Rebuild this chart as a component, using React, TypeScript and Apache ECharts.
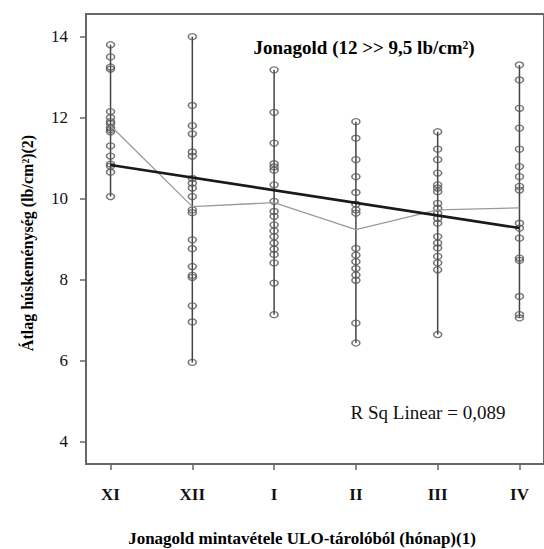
import React, { useEffect, useRef } from "react";
import * as echarts from "echarts";

// Months (categories) on the x axis
const months = ["XI", "XII", "I", "II", "III", "IV"];

// Individual firmness readings (lb/cm²) per month
const valuesXI = [13.8, 13.5, 13.25, 13.2, 12.15, 12.0, 11.9, 11.85, 11.75, 11.7, 11.65, 11.3, 11.05, 10.85, 10.8, 10.65, 10.05];
const valuesXII = [14.0, 12.3, 11.8, 11.6, 11.15, 11.05, 10.5, 10.38, 10.26, 10.05, 9.72, 9.65, 8.98, 8.76, 8.32, 8.1, 8.05, 7.35, 6.95, 5.95];
const valuesI = [13.18, 12.13, 11.37, 10.86, 10.78, 10.7, 10.34, 9.93, 9.68, 9.56, 9.35, 9.2, 9.06, 8.9, 8.75, 8.62, 8.41, 7.91, 7.13];
const valuesII = [11.9, 11.49, 10.96, 10.54, 10.15, 9.86, 9.72, 9.64, 8.77, 8.6, 8.44, 8.27, 8.11, 7.98, 6.92, 6.43];
const valuesIII = [11.65, 11.22, 10.96, 10.63, 10.34, 10.26, 10.17, 9.88, 9.76, 9.64, 9.51, 9.39, 9.06, 8.9, 8.78, 8.57, 8.41, 8.24, 6.64];
const valuesIV = [13.3, 12.93, 12.23, 11.74, 11.22, 10.79, 10.54, 10.3, 10.21, 9.39, 9.27, 9.02, 8.53, 8.47, 7.58, 7.13, 7.05];

// Mean line (thin grey) per month
const monthMeans = [11.8, 9.8, 9.9, 9.23, 9.72, 9.77];
// Linear fit line values at first and last month
const fitEnds = [10.83, 9.27];
// Y tick labels
const yTicks = [4, 6, 8, 10, 12, 14];

const titleText = "Jonagold (12 >> 9,5 lb/cm²)";
const rSqText = "R Sq Linear = 0,089";
const yName = "Átlag húskeménység (lb/cm²)(2)";
const xName = "Jonagold mintavétele ULO-tárolóból (hónap)(1)";

const FONT = "Liberation Serif";

export default function App() {
  const ref = useRef<HTMLDivElement>(null);

  useEffect(() => {
    if (!ref.current) return;
    const chart = echarts.init(ref.current, undefined, { renderer: "svg" });
    const columns = [valuesXI, valuesXII, valuesI, valuesII, valuesIII, valuesIV];
    const rangeData = columns.map((vals, i) => [i, Math.min(...vals), Math.max(...vals)]);
    const pointData: number[][] = [];
    columns.forEach((vals, i) => vals.forEach((v) => pointData.push([i, v])));
    const idx = months.map((_, i) => i);

    chart.setOption({
      animation: false,
      backgroundColor: "#ffffff",
      grid: {
        left: 86,
        top: 14,
        right: -4,
        bottom: 85,
        show: true,
        borderColor: "#666",
        borderWidth: 2,
      },
      xAxis: {
        type: "value",
        min: -0.3,
        max: 5.3,
        splitLine: { show: false },
        axisLine: { show: true, onZero: false, lineStyle: { color: "#666", width: 2 } },
        axisTick: { show: true, customValues: idx, length: 6, lineStyle: { color: "#666", width: 1.5 } },
        axisLabel: {
          customValues: idx,
          formatter: (v: number) => months[Math.round(v)] ?? "",
          fontFamily: FONT,
          fontWeight: "bold",
          fontSize: 17,
          color: "#111",
          margin: 22,
        },
      },
      yAxis: {
        type: "value",
        min: 3.44,
        max: 14.56,
        splitLine: { show: false },
        axisLine: { show: true, onZero: false, lineStyle: { color: "#666", width: 2 } },
        axisTick: { show: true, customValues: yTicks, length: 6, lineStyle: { color: "#666", width: 1.5 } },
        axisLabel: {
          customValues: yTicks,
          fontFamily: FONT,
          fontSize: 17,
          color: "#111",
          margin: 18,
        },
      },
      series: [
        {
          type: "custom",
          data: rangeData,
          z: 2,
          renderItem: (_params: any, api: any) => {
            const p1 = api.coord([api.value(0), api.value(1)]);
            const p2 = api.coord([api.value(0), api.value(2)]);
            return {
              type: "line",
              shape: { x1: p1[0], y1: p1[1], x2: p2[0], y2: p2[1] },
              style: { stroke: "#444", lineWidth: 1.5 },
            };
          },
        },
        {
          type: "scatter",
          data: pointData,
          symbol: "circle",
          symbolSize: [8, 6],
          z: 3,
          itemStyle: { color: "rgba(255,255,255,0)", borderColor: "#555", borderWidth: 1.4 },
        },
        {
          type: "line",
          data: monthMeans.map((v, i) => [i, v]),
          symbol: "none",
          z: 4,
          lineStyle: { color: "#9a9a9a", width: 1.3 },
        },
        {
          type: "line",
          data: [
            [0, fitEnds[0]],
            [months.length - 1, fitEnds[1]],
          ],
          symbol: "none",
          z: 5,
          lineStyle: { color: "#1a1a1a", width: 2.6 },
        },
      ],
      graphic: [
        {
          type: "text",
          x: 364,
          y: 47,
          style: {
            text: titleText,
            fontFamily: FONT,
            fontWeight: "bold",
            fontSize: 19,
            fill: "#000",
            align: "center",
            verticalAlign: "middle",
          },
        },
        {
          type: "text",
          x: 428,
          y: 412,
          style: {
            text: rSqText,
            fontFamily: FONT,
            fontSize: 19,
            fill: "#111",
            align: "center",
            verticalAlign: "middle",
          },
        },
        {
          type: "text",
          x: 27,
          y: 243,
          rotation: Math.PI / 2,
          style: {
            text: yName,
            fontFamily: FONT,
            fontWeight: "bold",
            fontSize: 16,
            fill: "#000",
            align: "center",
            verticalAlign: "middle",
          },
        },
        {
          type: "text",
          x: 302,
          y: 538,
          style: {
            text: xName,
            fontFamily: FONT,
            fontWeight: "bold",
            fontSize: 17,
            fill: "#000",
            align: "center",
            verticalAlign: "middle",
          },
        },
      ],
    });
    return () => chart.dispose();
  }, []);

  return (
    <div
      ref={ref}
      style={{ position: "fixed", left: 0, top: 0, width: 544, height: 549 }}
    />
  );
}
